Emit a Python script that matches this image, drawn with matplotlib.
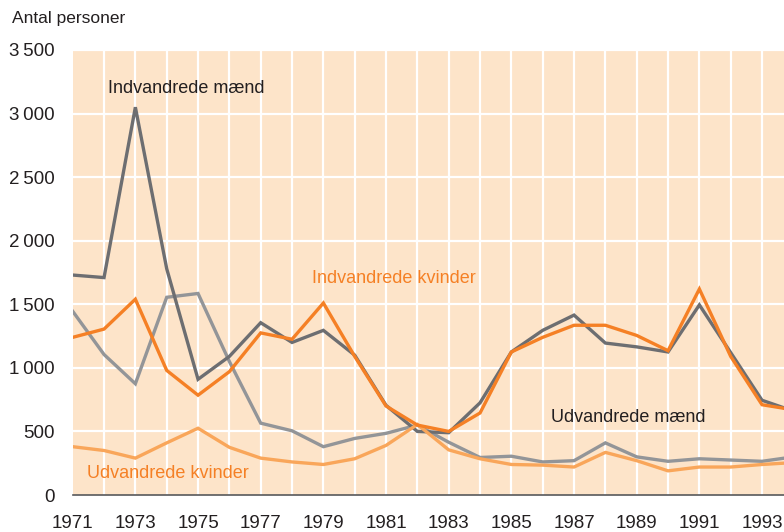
import numpy as np
import matplotlib.pyplot as plt

plt.rcParams['font.family'] = ['Liberation Sans', 'DejaVu Sans']

# ------------------------------------------------------------
# Vandringer, antal personer pr. aar
years = list(range(1971, 1995))

indv_maend = [1730, 1710, 3050, 1780, 910, 1090, 1355, 1200, 1295, 1100, 705, 500,
              490, 725, 1125, 1295, 1415, 1195, 1165, 1125, 1495, 1120, 745, 660]
indv_kvinder = [1240, 1305, 1540, 980, 785, 970, 1275, 1225, 1510, 1090, 700, 550,
                500, 645, 1125, 1240, 1335, 1335, 1255, 1135, 1620, 1090, 710, 670]
udv_maend = [1445, 1105, 875, 1555, 1585, 1050, 565, 505, 380, 445, 485, 550,
             415, 295, 305, 260, 270, 410, 300, 265, 285, 275, 265, 300]
udv_kvinder = [380, 350, 290, 410, 525, 375, 290, 260, 240, 285, 390, 555,
               355, 285, 240, 235, 220, 335, 270, 190, 220, 220, 240, 255]

y_ticks = [0, 500, 1000, 1500, 2000, 2500, 3000, 3500]
y_ticklabels = ['0', '500', '1\u2009000', '1\u2009500', '2\u2009000',
                '2\u2009500', '3\u2009000', '3\u2009500']
x_ticks = list(range(1971, 1994, 2))

# colours
BG = '#fde4c9'
DARK = '#6d6e71'
GREY = '#939598'
ORANGE = '#f58025'
LIGHT_ORANGE = '#f9a65a'
TEXT = '#231f20'

# ------------------------------------------------------------
fig = plt.figure(figsize=(7.84, 5.32), dpi=100)
W, H = 784, 532
# the axes run on past the right edge of the figure
ax = fig.add_axes([72.7 / W, 37 / H, 752 / W, 445 / H])
ax.set_facecolor(BG)

ax.plot(years, udv_maend, color=GREY, lw=2.4, solid_joinstyle='miter', zorder=3)
ax.plot(years, indv_maend, color=DARK, lw=2.4, solid_joinstyle='miter', zorder=3)
ax.plot(years, udv_kvinder, color=LIGHT_ORANGE, lw=2.4, solid_joinstyle='miter', zorder=4)
ax.plot(years, indv_kvinder, color=ORANGE, lw=2.4, solid_joinstyle='miter', zorder=4)

ax.set_xlim(1971, 1995)
ax.set_ylim(0, 3500)

# white grid: every year, every 500
for yr in range(1972, 1995):
    ax.axvline(yr, color='white', lw=1.6, zorder=1)
for v in y_ticks[1:]:
    ax.axhline(v, color='white', lw=1.6, zorder=1)

ax.set_yticks(y_ticks)
ax.set_yticklabels(y_ticklabels)
ax.set_xticks(x_ticks)
ax.tick_params(axis='both', length=0, labelsize=13.5, colors=TEXT)
ax.tick_params(axis='y', pad=13)
ax.tick_params(axis='x', pad=14.5)

for side in ['left', 'right', 'top']:
    ax.spines[side].set_visible(False)
ax.spines['bottom'].set_color('#58595b')
ax.spines['bottom'].set_linewidth(1.2)
ax.spines['bottom'].set_zorder(5)

# series names
ax.text(1972.12, 3200, 'Indvandrede mænd', color=TEXT, fontsize=13,
        va='center', ha='left')
ax.text(1978.63, 1700, 'Indvandrede kvinder', color=ORANGE, fontsize=13,
        va='center', ha='left')
ax.text(1986.26, 606, 'Udvandrede mænd', color=TEXT, fontsize=13,
        va='center', ha='left')
ax.text(1971.45, 173, 'Udvandrede kvinder', color=ORANGE, fontsize=13,
        va='center', ha='left')

fig.text(12 / W, 1 - 19 / H, 'Antal personer', fontsize=12.5, color=TEXT,
         va='center', ha='left')

fig.savefig('out.png', dpi=100)
